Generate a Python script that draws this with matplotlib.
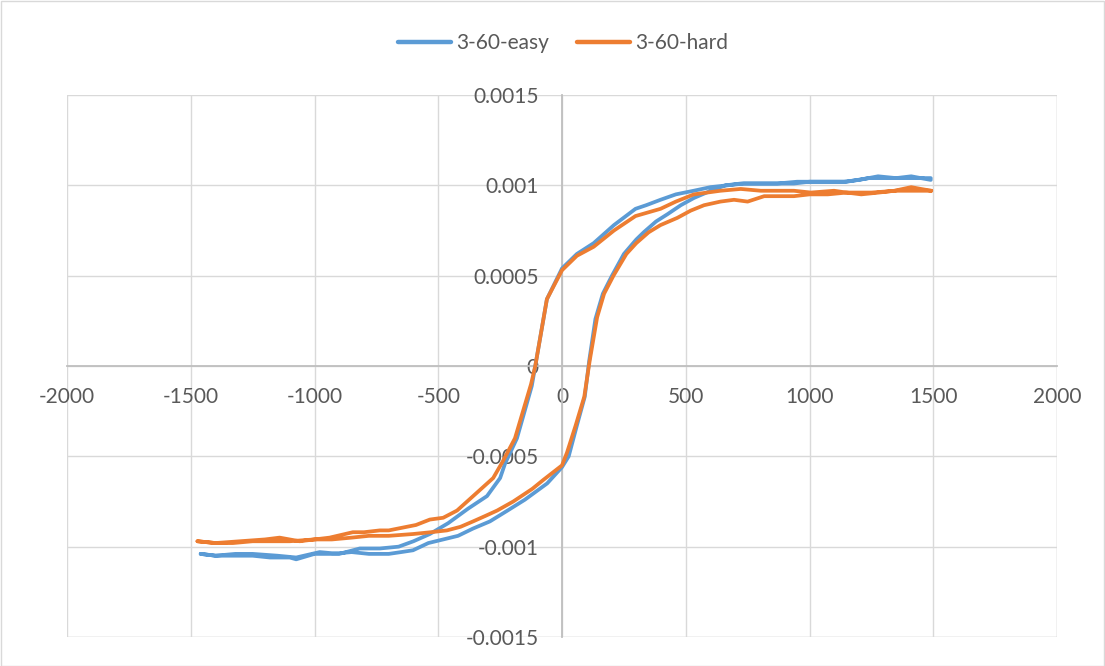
import matplotlib
matplotlib.use("Agg")
import matplotlib.pyplot as plt
from matplotlib.patches import Rectangle

# ---- data ----
easy_x = [1490, 1450, 1411, 1350, 1277, 1200, 1140, 1050, 1000, 937, 870, 800, 735, 668, 600,
          532, 460, 398, 340, 297, 210, 128, 60, 0, -61, -108, -122, -182, -230, -250, -303,
          -380, -460, -534, -600, -660, -736, -817, -900, -979, -1074, -1150, -1250, -1320,
          -1400, -1460,
          -1400, -1330, -1250, -1180, -1100, -1074, -1000, -930, -850, -780, -700, -650, -602,
          -540, -480, -420, -360, -291, -220, -150, -60, 0, 27, 60, 92, 110, 135, 165, 202, 250,
          300, 330, 380, 426, 480, 533, 601, 660, 722, 800, 870, 950, 1050, 1150, 1240, 1320,
          1400, 1490]
easy_y = [0.00103, 0.00104, 0.00105, 0.00104, 0.00105, 0.00103, 0.00102, 0.00102, 0.00102,
          0.00101, 0.00101, 0.00101, 0.00101, 0.00100, 0.00099, 0.00097, 0.00095, 0.00092,
          0.00089, 0.00087, 0.00078, 0.00068, 0.00062, 0.00054, 0.00037, 0.0, -0.00011,
          -0.00040, -0.00054, -0.00062, -0.00072, -0.00079, -0.00087, -0.00093, -0.00097,
          -0.00100, -0.00101, -0.00101, -0.00104, -0.00103, -0.00106, -0.00105, -0.00104,
          -0.00104, -0.00105, -0.00104,
          -0.00105, -0.00105, -0.00105, -0.00106, -0.00106, -0.00107, -0.00104, -0.00104,
          -0.00103, -0.00104, -0.00104, -0.00103, -0.00102, -0.00098, -0.00096, -0.00094,
          -0.00090, -0.00086, -0.00080, -0.00074, -0.00065, -0.00056, -0.00050, -0.00033,
          -0.00017, 0.00003, 0.00026, 0.00040, 0.00050, 0.00062, 0.00070, 0.00074, 0.00080,
          0.00084, 0.00089, 0.00093, 0.00097, 0.00100, 0.00101, 0.00101, 0.00101, 0.00102,
          0.00102, 0.00102, 0.00104, 0.00104, 0.00104, 0.00104]

hard_x = [1492, 1450, 1411, 1343, 1280, 1209, 1150, 1099, 1006, 937, 870, 803, 722, 640, 533,
          460, 398, 297, 210, 128, 60, 0, -61, -108, -125, -190, -240, -278, -359, -424, -480,
          -534, -590, -627, -700, -736, -800, -845, -939, -1000, -1060, -1141, -1200, -1300,
          -1400, -1473,
          -1400, -1330, -1250, -1180, -1100, -1000, -930, -850, -780, -700, -602, -530, -465,
          -410, -359, -310, -262, -197, -120, -75, 0, 20, 55, 90, 112, 142, 170, 208, 260, 300,
          350, 398, 466, 520, 574, 640, 695, 750, 817, 880, 937, 1000, 1074, 1150, 1250, 1350,
          1420, 1492]
hard_y = [0.00097, 0.00098, 0.00099, 0.00097, 0.00096, 0.00095, 0.00096, 0.00097, 0.00096,
          0.00097, 0.00097, 0.00097, 0.00098, 0.00097, 0.00095, 0.00091, 0.00087, 0.00083,
          0.00075, 0.00066, 0.00061, 0.00053, 0.00037, 0.0, -0.00010, -0.00040, -0.00053,
          -0.00062, -0.00072, -0.00080, -0.00084, -0.00085, -0.00088, -0.00089, -0.00091,
          -0.00091, -0.00092, -0.00092, -0.00095, -0.00096, -0.00097, -0.00095, -0.00096,
          -0.00097, -0.00098, -0.00097,
          -0.00098, -0.00098, -0.00097, -0.00097, -0.00097, -0.00096, -0.00096, -0.00095,
          -0.00094, -0.00094, -0.00093, -0.00092, -0.00091, -0.00089, -0.00086, -0.00083,
          -0.00080, -0.00075, -0.00068, -0.00063, -0.00055, -0.00048, -0.00033, -0.00017,
          0.00003, 0.00027, 0.00040, 0.00050, 0.00062, 0.00068, 0.00074, 0.00078, 0.00082,
          0.00086, 0.00089, 0.00091, 0.00092, 0.00091, 0.00094, 0.00094, 0.00094, 0.00095,
          0.00095, 0.00096, 0.00096, 0.00097, 0.00097, 0.00097]

series_names = ["3-60-easy", "3-60-hard"]
series_colors = ["#5B9BD5", "#ED7D31"]
x_ticks = [-2000, -1500, -1000, -500, 0, 500, 1000, 1500, 2000]
y_ticks = [-0.0015, -0.001, -0.0005, 0, 0.0005, 0.001, 0.0015]
y_labels = ["-0.0015", "-0.001", "-0.0005", "0", "0.0005", "0.001", "0.0015"]

plt.rcParams['font.family'] = ['Lato', 'DejaVu Sans']

W, H = 1105, 666
fig = plt.figure(figsize=(W / 100, H / 100), dpi=100)
fig.patch.set_facecolor('white')
fig.patches.append(Rectangle((0.5 / W, 0.5 / H), 1 - 1.5 / W, 1 - 1.5 / H,
                             transform=fig.transFigure, fill=False,
                             edgecolor='#d9d9d9', linewidth=1))

left, right, top, bottom = 67, 1057, 95, 637
ax = fig.add_axes([left / W, 1 - bottom / H, (right - left) / W, (bottom - top) / H])

ax.plot(easy_x, easy_y, color=series_colors[0], lw=2.7, label=series_names[0],
        solid_joinstyle='round', solid_capstyle='round', zorder=3)
ax.plot(hard_x, hard_y, color=series_colors[1], lw=2.7, label=series_names[1],
        solid_joinstyle='round', solid_capstyle='round', zorder=4)

ax.set_xlim(-2000, 2000)
ax.set_ylim(-0.0015, 0.0015)
ax.set_xticks(x_ticks)
ax.set_xticklabels([str(v) for v in x_ticks])
ax.set_yticks(y_ticks)
ax.set_yticklabels(y_labels)

ax.grid(True, color='#d9d9d9', linewidth=1)
ax.set_axisbelow(True)

ax.spines['left'].set_position('zero')
ax.spines['bottom'].set_position('zero')
ax.spines['right'].set_visible(False)
ax.spines['top'].set_visible(False)
for s in ('left', 'bottom'):
    ax.spines[s].set_color('#bfbfbf')
    ax.spines[s].set_linewidth(1.3)
    ax.spines[s].set_zorder(1)

ax.tick_params(axis='both', length=0, labelsize=15, labelcolor='#595959')
ax.tick_params(axis='x', pad=15)
ax.tick_params(axis='y', pad=17)

ax.axvline(2000, color='#d9d9d9', lw=1, zorder=0)
ax.axhline(-0.0015, color='#d9d9d9', lw=1, zorder=0)

leg = fig.legend(loc='center', bbox_to_anchor=(563 / W, 1 - 43 / H), ncol=2,
                 frameon=False, fontsize=15, handlelength=2.55, columnspacing=1.35,
                 handletextpad=0.25)
for line in leg.get_lines():
    line.set_linewidth(3.2)
for t in leg.get_texts():
    t.set_color('#595959')

fig.savefig('out.png', dpi=100)
